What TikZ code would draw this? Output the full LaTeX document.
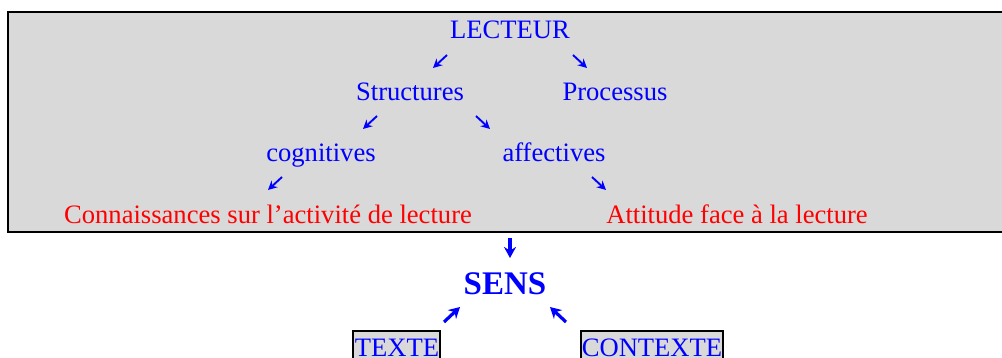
\documentclass[tikz,border=0pt]{standalone}
\usepackage{fontspec}
\setmainfont{Liberation Serif}
\usetikzlibrary{arrows.meta}
\definecolor{boxgray}{HTML}{D9D9D9}
\definecolor{txtblue}{RGB}{0,0,255}
\definecolor{txtred}{RGB}{255,0,0}
\tikzset{
  bluetxt/.style={text=txtblue,font=\fontsize{13.3pt}{16pt}\selectfont,inner sep=0pt,anchor=base},
  redtxt/.style={text=txtred,font=\fontsize{13.3pt}{16pt}\selectfont,inner sep=0pt,anchor=base},
  senstxt/.style={text=txtblue,font=\fontsize{16.5pt}{19pt}\selectfont\bfseries,inner sep=0pt,anchor=base},
  thinarrow/.style={draw=txtblue,line width=0.95pt,-{Stealth[length=4.5pt,width=4.5pt]}},
  thickarrow/.style={draw=txtblue,line width=1.6pt,-{Stealth[length=5.5pt,width=6pt]}},
  framebox/.style={draw=black,line width=0.85pt,fill=boxgray},
}
\begin{document}
\begin{tikzpicture}[x=0.5pt,y=-0.5pt]
\useasboundingbox (0,0) rectangle (1002,358);
\clip (0,0) rectangle (1002,358);
% grey panel
\path[framebox] (8,12) rectangle (1012,232);
% bottom boxes
\path[framebox] (353,331) rectangle (440,372);
\path[framebox] (581,331) rectangle (723,372);
% texts
\node[bluetxt] (lecteur) at (510,39) {LECTEUR};
\node[bluetxt] (structures) at (410,101) {Structures};
\node[bluetxt] (processus) at (615,101) {Processus};
\node[bluetxt] (cognitives) at (321,162) {cognitives};
\node[bluetxt] (affectives) at (554,162) {affectives};
\node[redtxt] (connaissances) at (268,223) {Connaissances sur l’activité de lecture};
\node[redtxt] (attitude) at (737,223) {Attitude face à la lecture};
\node[senstxt] (sens) at (505,294) {SENS};
\node[bluetxt] (texte) at (397,356) {TEXTE};
\node[bluetxt] (contexte) at (652,356) {CONTEXTE};
% arrow end points
\coordinate (a1s) at (447,55);  \coordinate (a1e) at (433,68);
\coordinate (a2s) at (573,55);  \coordinate (a2e) at (587,68);
\coordinate (a3s) at (377,116); \coordinate (a3e) at (363,129);
\coordinate (a4s) at (476,116); \coordinate (a4e) at (490,129);
\coordinate (a5s) at (282,177); \coordinate (a5e) at (268,190);
\coordinate (a6s) at (592,177); \coordinate (a6e) at (606,190);
\coordinate (a7s) at (510,238); \coordinate (a7e) at (510,258);
\coordinate (a8s) at (444,322); \coordinate (a8e) at (460,307);
\coordinate (a9s) at (566,322); \coordinate (a9e) at (550,307);
\draw[thinarrow] (a1s) -- (a1e);
\draw[thinarrow] (a2s) -- (a2e);
\draw[thinarrow] (a3s) -- (a3e);
\draw[thinarrow] (a4s) -- (a4e);
\draw[thinarrow] (a5s) -- (a5e);
\draw[thinarrow] (a6s) -- (a6e);
\draw[thickarrow] (a7s) -- (a7e);
\draw[thickarrow] (a8s) -- (a8e);
\draw[thickarrow] (a9s) -- (a9e);
\end{tikzpicture}
\end{document}
